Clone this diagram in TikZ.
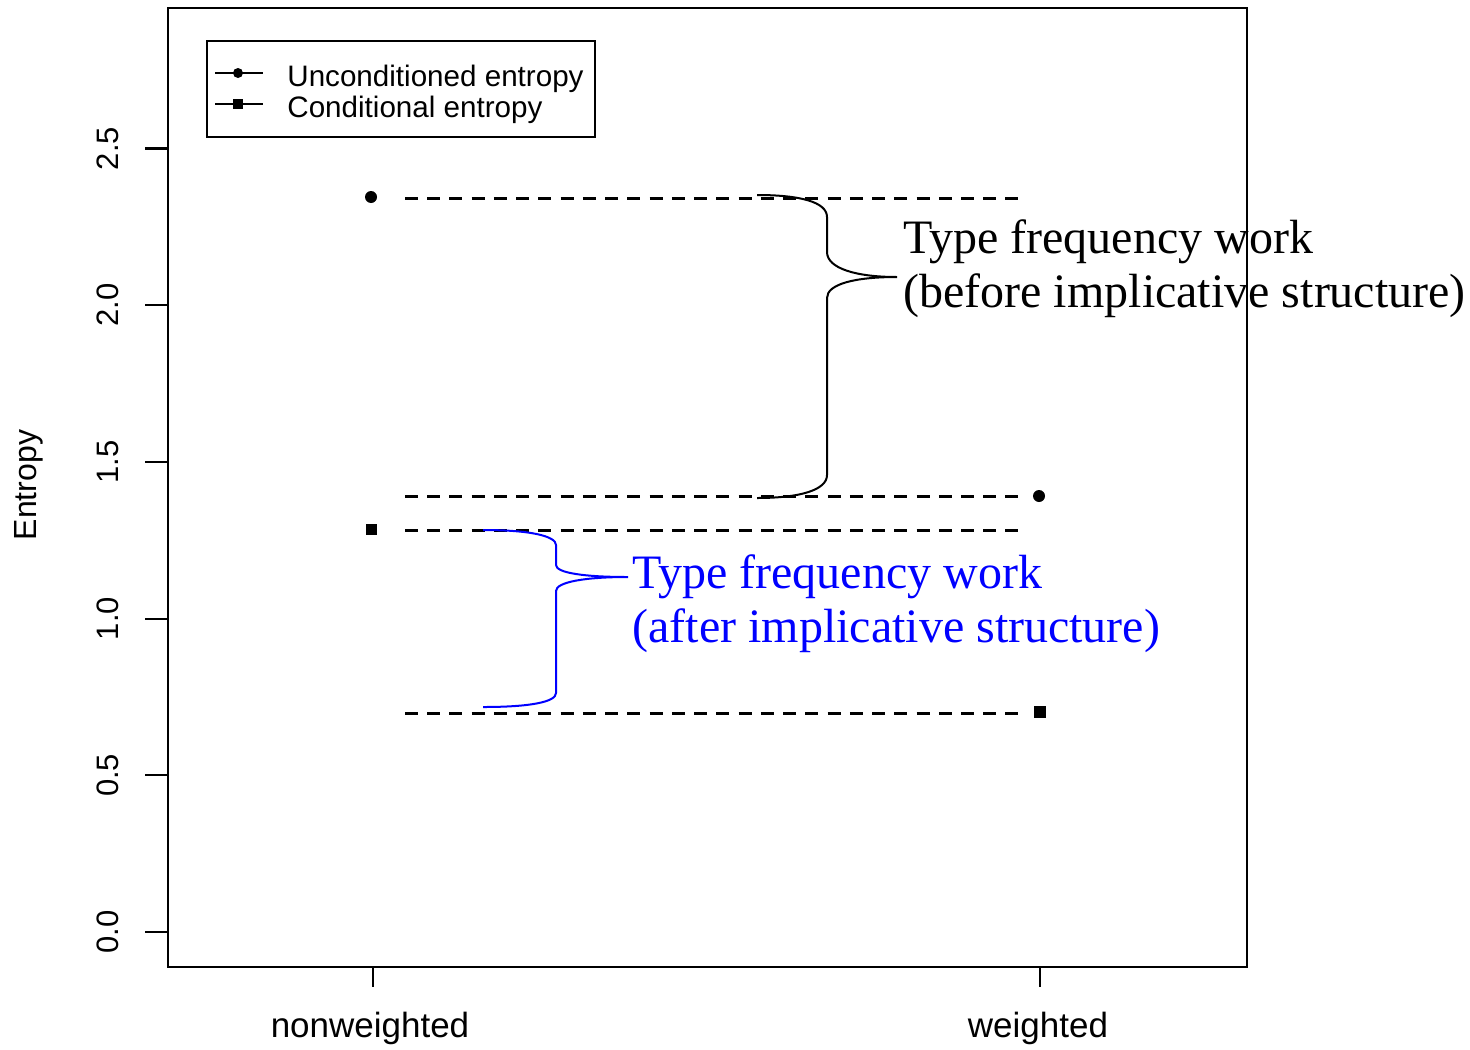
\documentclass[tikz,border=0pt]{standalone}
\usepackage{fontspec}
\setmainfont{Liberation Serif}
\newfontfamily\arialf{Liberation Sans}
\begin{document}
\begin{tikzpicture}[x=0.5pt,y=-0.5pt,
  dot/.style={circle,fill,inner sep=0pt,minimum size=6pt},
  sq/.style={rectangle,fill,inner sep=0pt,minimum size=5.5pt},
  dline/.style={line width=1.5pt,dash pattern=on 6.5pt off 4.62pt},
  frame/.style={line width=1.1pt},
  ticklab/.style={font=\arialf\fontsize{15.5}{18}\selectfont,rotate=90,inner sep=0pt},
  axlab/.style={font=\arialf\fontsize{17.5}{21}\selectfont,anchor=base,inner sep=0pt},
  leglab/.style={font=\arialf\fontsize{14.8}{17}\selectfont,anchor=base west,inner sep=0pt},
  ann/.style={font=\fontsize{24}{27}\selectfont,anchor=base west,inner sep=0pt},
  bracepath/.style={line width=1pt}
]
\useasboundingbox (0,0) rectangle (1470,1049);
% plot frame
\draw[frame] (168,8) rectangle (1247,967);
% y ticks
\foreach \y/\l/\n in {932/0.0/0, 775.3/0.5/1, 618.6/1.0/2, 461.9/1.5/3, 305.2/2.0/4, 148.5/2.5/5}{
  \coordinate (ya\n) at (145,\y);
  \coordinate (yb\n) at (168,\y);
  \draw[frame] (ya\n) -- (yb\n);
  \node[ticklab] (yl\n) at (108,\y) {\l};
}
\node[font=\arialf\fontsize{16}{19}\selectfont,rotate=90,inner sep=0pt] (ylab) at (29,485) {Entropy};
% x ticks
\coordinate (xa1) at (373,967); \coordinate (xb1) at (373,987);
\coordinate (xa2) at (1040,967); \coordinate (xb2) at (1040,987);
\draw[frame] (xa1) -- (xb1);
\draw[frame] (xa2) -- (xb2);
\node[axlab] (xl1) at (370,1037) {nonweighted};
\node[axlab] (xl2) at (1038,1037) {weighted};
% legend
\node[draw,line width=1.1pt,minimum width=194pt,minimum height=48pt,inner sep=0pt] (legend) at (401,89) {};
\coordinate (la1) at (215,73); \coordinate (lb1) at (263,73);
\coordinate (la2) at (215,104); \coordinate (lb2) at (263,104);
\draw[line width=1pt] (la1) -- (lb1);
\draw[line width=1pt] (la2) -- (lb2);
\node[dot,minimum size=5pt] (lm1) at (238,73) {};
\node[sq,minimum size=5pt] (lm2) at (238,104) {};
\node[leglab] (lt1) at (287,86) {Unconditioned entropy};
\node[leglab] (lt2) at (287,117) {Conditional entropy};
% data points
\node[dot] (p1) at (371,197) {};
\node[sq] (p2) at (371,529) {};
\node[dot] (p3) at (1039,496) {};
\node[sq,minimum size=6pt] (p4) at (1040,712) {};
% dashed lines
\coordinate (d1a) at (405,198); \coordinate (d1b) at (1018,198);
\coordinate (d2a) at (405,496); \coordinate (d2b) at (1018,496);
\coordinate (d3a) at (405,530); \coordinate (d3b) at (1018,530);
\coordinate (d4a) at (405,713); \coordinate (d4b) at (1018,713);
\draw[dline] (d1a) -- (d1b);
\draw[dline] (d2a) -- (d2b);
\draw[dline] (d3a) -- (d3b);
\draw[dline] (d4a) -- (d4b);
% black brace
\draw[bracepath] (757,195) .. controls (800,195) and (827,202) .. (827,217)
  -- (827,252) .. controls (827,268) and (855,277) .. (897,277)
  .. controls (855,277) and (827,284) .. (827,298)
  -- (827,475) .. controls (827,490) and (800,498) .. (757,498);
% blue brace
\draw[bracepath,blue] (483,530) .. controls (530,530) and (556,536) .. (556,545)
  -- (556,565) .. controls (556,573) and (585,577) .. (628,577)
  .. controls (585,577) and (556,582) .. (556,591)
  -- (556,693) .. controls (556,702) and (530,707) .. (483,707);
% annotations
\node[ann] (a1) at (903,253) {Type frequency work};
\node[ann] (a2) at (903,307) {(before implicative structure)};
\node[ann,text=blue] (b1) at (632,588) {Type frequency work};
\node[ann,text=blue] (b2) at (632,642) {(after implicative structure)};
\end{tikzpicture}
\end{document}
